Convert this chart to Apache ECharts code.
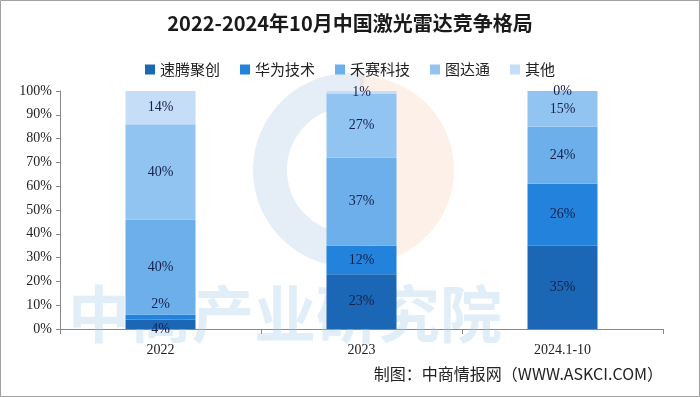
<!DOCTYPE html>
<html>
<head>
<meta charset="utf-8">
<script src="https://cdn.jsdelivr.net/npm/echarts@6/dist/echarts.min.js"></script>
<style>
  html, body { margin: 0; padding: 0; background: #fff; }
  #chart { width: 700px; height: 397px; }
</style>
</head>
<body>
<div id="chart"></div>
<script>
// 类别与数据（%）
const categories = ['2022', '2023', '2024.1-10']
const seriesNames = ['速腾聚创', '华为技术', '禾赛科技', '图达通', '其他']
const suteng = [4, 23, 35]
const huawei = [2, 12, 26]
const hesai = [40, 37, 24]
const tudatong = [40, 27, 15]
const others = [14, 1, 0]
const yTicks = [0, 10, 20, 30, 40, 50, 60, 70, 80, 90, 100]

const colors = ['#1b67b5', '#2282dc', '#6cafeb', '#92c4f2', '#c5ddf6']
const values = [suteng, huawei, hesai, tudatong, others]

const labelFont = 'Liberation Serif, DejaVu Serif, serif'
const cjkFont = '"Noto Sans CJK SC", sans-serif'

// 小数值标签错开，避免重叠（2022 年）
const labelOffsets = { '0-0': [0, 5], '1-0': [0, -13] }

const chart = echarts.init(document.getElementById('chart'))

const option = {
  backgroundColor: '#fff',
  animation: false,
  color: colors,
  title: {
    text: '2022-2024年10月中国激光雷达竞争格局',
    left: 'center',
    top: 8,
    textStyle: { fontFamily: cjkFont, fontSize: 20, fontWeight: 'bold', color: '#1a1a1a' },
  },
  legend: {
    top: 57,
    left: 'center',
    itemWidth: 10,
    itemHeight: 10,
    itemGap: 20,
    icon: 'rect',
    textStyle: { fontFamily: cjkFont, fontSize: 15, color: '#222' },
    data: seriesNames,
  },
  grid: { left: 60, right: 37, top: 91, bottom: 68 },
  xAxis: {
    type: 'category',
    data: categories,
    axisLine: { lineStyle: { color: '#888' } },
    axisTick: { show: true, length: 5, lineStyle: { color: '#888' } },
    axisLabel: { fontFamily: labelFont, fontSize: 14, color: '#222', margin: 14 },
  },
  yAxis: {
    type: 'value',
    min: yTicks[0],
    max: yTicks[yTicks.length - 1],
    interval: 10,
    splitLine: { show: false },
    axisLine: { show: true, lineStyle: { color: '#888' } },
    axisTick: { show: true, length: 4, lineStyle: { color: '#888' } },
    axisLabel: { formatter: '{value}%', fontFamily: labelFont, fontSize: 14, color: '#222', margin: 8 },
  },
  graphic: [
    {
      type: 'rect',
      shape: { x: 0.5, y: 0.5, width: 699, height: 396 },
      style: { fill: 'none', stroke: '#a0a0a0', lineWidth: 1 },
      z: 100,
    },
    // 水印 logo
    {
      type: 'arc',
      shape: { cx: 350, cy: 170, r: 80, startAngle: Math.PI * 0.45, endAngle: Math.PI * 1.55 },
      style: { stroke: 'rgba(170,200,230,0.3)', lineWidth: 34, fill: 'none' },
      z: 1,
    },
    {
      type: 'sector',
      shape: { cx: 360, cy: 170, r0: 0, r: 94, startAngle: -Math.PI * 0.5, endAngle: Math.PI * 0.42 },
      style: { fill: 'rgba(248,205,180,0.3)' },
      z: 1,
    },
    {
      type: 'text',
      left: 68,
      top: 283,
      style: {
        text: '中商产业研究院',
        fontFamily: cjkFont,
        fontSize: 62,
        fontWeight: 'bold',
        fill: 'rgba(170,205,235,0.35)',
      },
      z: 1,
    },
    {
      type: 'text',
      right: 37,
      top: 366,
      style: {
        text: '制图：中商情报网（WWW.ASKCI.COM）',
        fontFamily: cjkFont,
        fontSize: 16,
        fill: '#222',
      },
      z: 60,
    },
  ],
  series: seriesNames.map((name, i) => ({
    name,
    type: 'bar',
    stack: 'total',
    barWidth: 70,
    data: values[i].map((v, j) => {
      const off = labelOffsets[i + '-' + j]
      return off ? { value: v, label: { offset: off } } : v
    }),
    itemStyle: { color: colors[i] },
    label: {
      show: true,
      position: 'inside',
      formatter: '{c}%',
      fontFamily: labelFont,
      fontSize: 14,
      color: '#15204a',
    },
    z: 2,
  })),
}

chart.setOption(option)
</script>
</body>
</html>
